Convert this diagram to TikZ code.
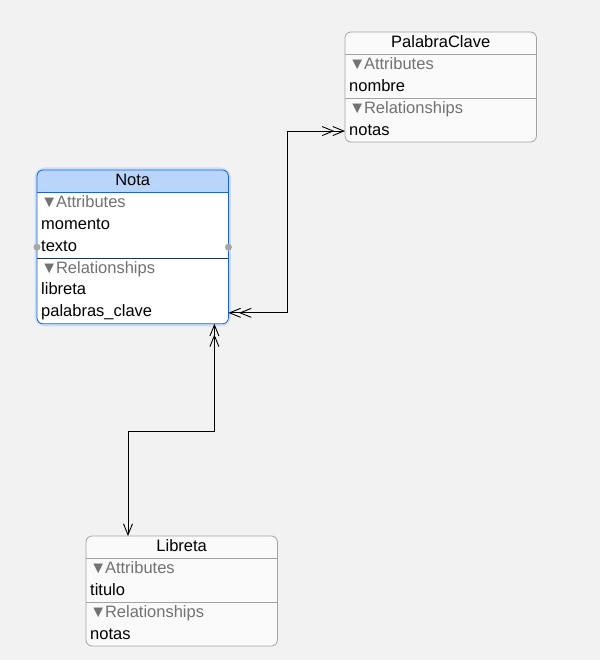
\documentclass[tikz,border=0pt]{standalone}
\usepackage{fontspec}
\setmainfont{Liberation Sans}
\usepackage{xcolor}
\usetikzlibrary{positioning, arrows.meta, backgrounds}

\definecolor{canvas}{HTML}{F2F2F2}
\definecolor{boxfill}{HTML}{FAFAFA}
\definecolor{boxline}{HTML}{A3A3A3}
\definecolor{selline}{HTML}{1E5FE0}
\definecolor{selhead}{HTML}{B9D5FA}
\definecolor{selglow}{HTML}{CBDEF8}
\definecolor{seldark}{HTML}{22305F}
\definecolor{secgray}{HTML}{727272}

\newcommand{\tri}{▼\kern-1.5pt}

\begin{document}
\begin{tikzpicture}[x=1pt, y=-1pt, font=\fontsize{16.5}{19}\selectfont,
        title/.style={minimum width=191pt, minimum height=22pt, inner sep=0pt,
                      text height=12pt, text depth=4pt, anchor=north west},
        row/.style={below=0pt of #1, text width=183pt, minimum height=21.5pt,
                    inner xsep=4pt, inner ysep=0pt, text height=12pt, text depth=4pt, align=left},
        sect/.style={row=#1, text=secgray},
        frame/.style={rounded corners=6pt, draw=#1, line width=0.8pt},
        toone/.tip={Straight Barb[length=11pt, width=9pt]},
        tomany/.tip={Straight Barb[length=11pt, width=9pt, sep=-2pt]Straight Barb[length=11pt, width=9pt]},
        link/.style={draw=black, line width=0.9pt}]
  \useasboundingbox (0,0) rectangle (600,660);

  % Nota
  \node[title] (nota) at (37,170) {Nota};
  \node[sect=nota] (nota-at) {\tri Attributes};
  \node[row=nota-at] (nota-mo) {momento};
  \node[row=nota-mo] (nota-tx) {texto};
  \node[sect=nota-tx] (nota-re) {\tri Relationships};
  \node[row=nota-re] (nota-li) {libreta};
  \node[row=nota-li] (nota-pc) {palabras\_clave};

  % PalabraClave
  \node[title] (pc) at (345,32) {PalabraClave};
  \node[sect=pc] (pc-at) {\tri Attributes};
  \node[row=pc-at] (pc-nom) {nombre};
  \node[sect=pc-nom] (pc-re) {\tri Relationships};
  \node[row=pc-re] (pc-no) {notas};

  % Libreta
  \node[title] (lib) at (86,536) {Libreta};
  \node[sect=lib] (lib-at) {\tri Attributes};
  \node[row=lib-at] (lib-ti) {titulo};
  \node[sect=lib-ti] (lib-re) {\tri Relationships};
  \node[row=lib-re] (lib-no) {notas};

  \begin{scope}[on background layer]
    \fill[canvas] (0,0) rectangle (600,660);
    \draw[selglow, line width=5pt, rounded corners=8pt] (nota.north west) rectangle (nota-pc.south east);
    \begin{scope}
      \clip[rounded corners=6pt] (nota.north west) rectangle (nota-pc.south east);
      \fill[white] (nota.north west) rectangle (nota-pc.south east);
      \fill[selhead] (nota.north west) rectangle (nota.south east);
    \end{scope}
    \draw[frame=selline] (nota.north west) rectangle (nota-pc.south east);
    \foreach \e/\last in {pc/pc-no, lib/lib-no}
      \draw[frame=boxline, fill=boxfill] (\e.north west) rectangle (\last.south east);
  \end{scope}

  % separators
  \draw[selline] (nota.south west) -- (nota.south east);
  \draw[seldark] (nota-tx.south west) -- (nota-tx.south east);
  \draw[boxline] (pc.south west) -- (pc.south east);
  \draw[boxline] (pc-nom.south west) -- (pc-nom.south east);
  \draw[boxline] (lib.south west) -- (lib.south east);
  \draw[boxline] (lib-ti.south west) -- (lib-ti.south east);

  % handles
  \fill[black!35] (nota-tx.west) circle (3.5pt);
  \fill[black!35] (nota-tx.east) circle (3.5pt);

  % relationships
  \draw[link, tomany-tomany] (nota-pc.east) -- ++(59,0) |- (pc-no.west);
  \draw[link, tomany-toone] ([xshift=-14pt]nota-pc.south east) -- ++(0,108) -| ([xshift=42pt]lib.north west);
\end{tikzpicture}
\end{document}
